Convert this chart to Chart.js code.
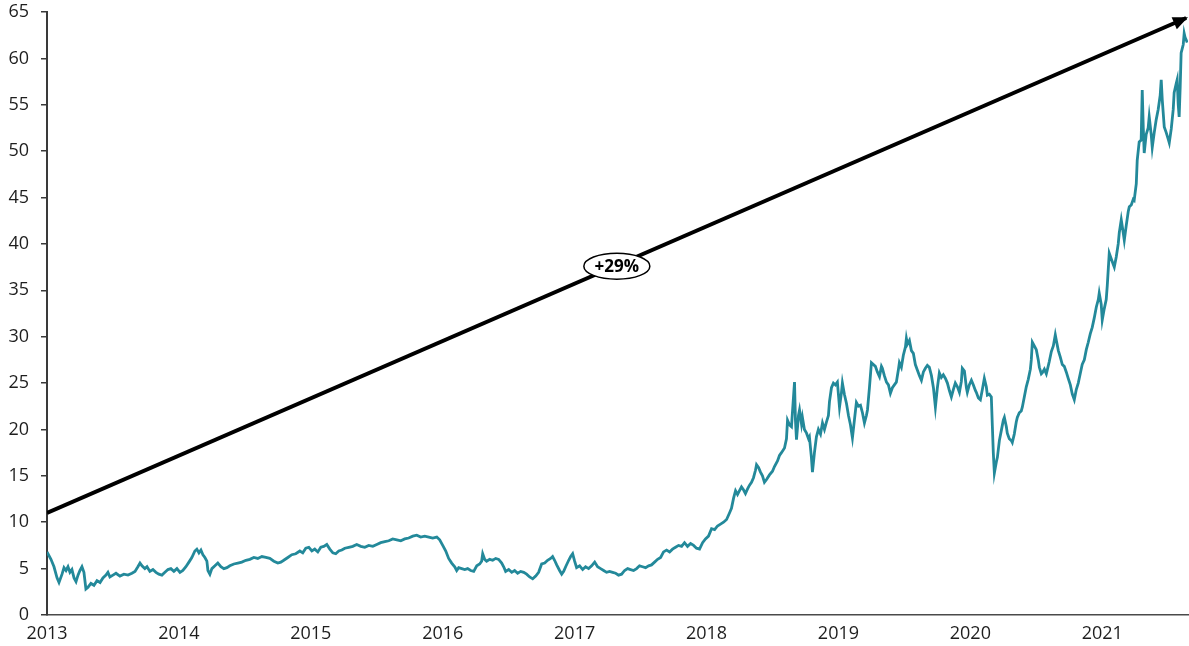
<!DOCTYPE html>
<html>
<head>
<meta charset="utf-8">
<script src="https://cdn.jsdelivr.net/npm/chart.js@4.4.1/dist/chart.umd.min.js"></script>
<style>
  html, body { margin: 0; padding: 0; background: #fff; }
  #wrap { width: 1189px; height: 646px; }
</style>
</head>
<body>
<div id="wrap"><canvas id="priceChart"></canvas></div>
<script>
// x ticks: one label per calendar year
const yearTicks = [2013, 2014, 2015, 2016, 2017, 2018, 2019, 2020, 2021];
const xMin = 2013;
const xMax = 2021.65;

// y axis range
const yMin = 0;
const yMax = 65;
const yStep = 5;

// price history, [fractional year, price]
const priceSeries = [
  [2013.000, 6.8], [2013.030, 6.0], [2013.053, 5.2], [2013.076, 4.0], [2013.091, 3.5], [2013.114, 4.4],
  [2013.129, 5.1], [2013.144, 4.8], [2013.159, 5.2], [2013.174, 4.6], [2013.189, 4.9], [2013.205, 4.0],
  [2013.220, 3.6], [2013.235, 4.3], [2013.250, 4.8], [2013.265, 5.2], [2013.280, 4.6], [2013.295, 2.8],
  [2013.311, 3.0], [2013.333, 3.4], [2013.356, 3.2], [2013.379, 3.7], [2013.402, 3.5], [2013.424, 4.0],
  [2013.447, 4.3], [2013.462, 4.6], [2013.477, 4.1], [2013.500, 4.3], [2013.523, 4.5], [2013.553, 4.2],
  [2013.583, 4.4], [2013.614, 4.3], [2013.644, 4.5], [2013.667, 4.7], [2013.689, 5.2], [2013.705, 5.6],
  [2013.720, 5.3], [2013.742, 5.0], [2013.758, 5.2], [2013.780, 4.7], [2013.803, 4.9], [2013.826, 4.6],
  [2013.848, 4.4], [2013.871, 4.3], [2013.894, 4.6], [2013.917, 4.9], [2013.939, 5.0], [2013.962, 4.7],
  [2013.985, 5.0], [2014.008, 4.6], [2014.030, 4.8], [2014.053, 5.2], [2014.076, 5.7], [2014.098, 6.2],
  [2014.121, 6.9], [2014.136, 7.1], [2014.152, 6.7], [2014.167, 7.0], [2014.182, 6.5], [2014.197, 6.2],
  [2014.212, 5.8], [2014.220, 4.8], [2014.235, 4.4], [2014.250, 5.0], [2014.273, 5.3], [2014.295, 5.6],
  [2014.318, 5.2], [2014.341, 5.0], [2014.364, 5.1], [2014.386, 5.3], [2014.417, 5.5], [2014.447, 5.6],
  [2014.477, 5.7], [2014.508, 5.9], [2014.538, 6.0], [2014.568, 6.2], [2014.598, 6.1], [2014.629, 6.3],
  [2014.659, 6.2], [2014.689, 6.1], [2014.720, 5.8], [2014.750, 5.6], [2014.773, 5.7], [2014.795, 5.9],
  [2014.826, 6.2], [2014.856, 6.5], [2014.886, 6.6], [2014.917, 6.9], [2014.939, 6.7], [2014.962, 7.2],
  [2014.985, 7.3], [2015.008, 6.9], [2015.030, 7.1], [2015.053, 6.8], [2015.076, 7.3], [2015.098, 7.4],
  [2015.121, 7.6], [2015.144, 7.1], [2015.167, 6.7], [2015.189, 6.6], [2015.212, 6.9], [2015.235, 7.0],
  [2015.258, 7.2], [2015.288, 7.3], [2015.318, 7.4], [2015.348, 7.6], [2015.379, 7.4], [2015.409, 7.3],
  [2015.439, 7.5], [2015.470, 7.4], [2015.500, 7.6], [2015.530, 7.8], [2015.561, 7.9], [2015.591, 8.0],
  [2015.621, 8.2], [2015.652, 8.1], [2015.682, 8.0], [2015.712, 8.2], [2015.742, 8.3], [2015.773, 8.5],
  [2015.803, 8.6], [2015.833, 8.4], [2015.864, 8.5], [2015.894, 8.4], [2015.924, 8.3], [2015.955, 8.4],
  [2015.977, 8.1], [2016.000, 7.5], [2016.023, 6.9], [2016.045, 6.1], [2016.068, 5.6], [2016.091, 5.2],
  [2016.106, 4.8], [2016.121, 5.1], [2016.144, 5.0], [2016.167, 4.9], [2016.189, 5.0], [2016.212, 4.8],
  [2016.235, 4.7], [2016.258, 5.3], [2016.280, 5.5], [2016.295, 5.8], [2016.303, 6.6], [2016.318, 6.0],
  [2016.333, 5.8], [2016.356, 6.0], [2016.379, 5.9], [2016.402, 6.1], [2016.424, 6.0], [2016.447, 5.6],
  [2016.462, 5.2], [2016.477, 4.7], [2016.500, 4.9], [2016.523, 4.6], [2016.545, 4.8], [2016.568, 4.5],
  [2016.591, 4.7], [2016.614, 4.6], [2016.636, 4.4], [2016.659, 4.1], [2016.682, 3.9], [2016.705, 4.2],
  [2016.727, 4.6], [2016.750, 5.5], [2016.773, 5.6], [2016.795, 5.9], [2016.818, 6.1], [2016.833, 6.3],
  [2016.848, 5.9], [2016.864, 5.4], [2016.886, 4.8], [2016.902, 4.4], [2016.917, 4.7], [2016.932, 5.2],
  [2016.955, 5.9], [2016.970, 6.3], [2016.985, 6.6], [2017.000, 5.8], [2017.015, 5.1], [2017.038, 5.3],
  [2017.061, 4.9], [2017.083, 5.2], [2017.106, 5.0], [2017.129, 5.3], [2017.152, 5.7], [2017.174, 5.2],
  [2017.197, 5.0], [2017.220, 4.8], [2017.242, 4.6], [2017.265, 4.7], [2017.288, 4.6], [2017.311, 4.5],
  [2017.333, 4.3], [2017.356, 4.4], [2017.379, 4.8], [2017.402, 5.0], [2017.424, 4.9], [2017.447, 4.8],
  [2017.470, 5.0], [2017.492, 5.3], [2017.515, 5.2], [2017.538, 5.1], [2017.561, 5.3], [2017.583, 5.4],
  [2017.606, 5.7], [2017.629, 6.0], [2017.652, 6.2], [2017.674, 6.8], [2017.697, 7.0], [2017.720, 6.8],
  [2017.742, 7.1], [2017.765, 7.3], [2017.788, 7.5], [2017.811, 7.4], [2017.833, 7.8], [2017.856, 7.4],
  [2017.879, 7.7], [2017.902, 7.5], [2017.924, 7.2], [2017.947, 7.1], [2017.970, 7.8], [2017.992, 8.2],
  [2018.015, 8.5], [2018.038, 9.3], [2018.061, 9.2], [2018.083, 9.6], [2018.106, 9.8], [2018.129, 10.0],
  [2018.152, 10.3], [2018.174, 11.0], [2018.189, 11.5], [2018.205, 12.6], [2018.220, 13.4], [2018.235, 13.0],
  [2018.250, 13.4], [2018.265, 13.8], [2018.280, 13.5], [2018.295, 13.1], [2018.311, 13.6], [2018.326, 14.0],
  [2018.341, 14.3], [2018.356, 14.8], [2018.371, 15.6], [2018.379, 16.2], [2018.394, 15.9], [2018.409, 15.4],
  [2018.424, 15.0], [2018.439, 14.3], [2018.455, 14.6], [2018.477, 15.1], [2018.500, 15.5], [2018.515, 16.0],
  [2018.538, 16.6], [2018.553, 17.2], [2018.568, 17.5], [2018.591, 18.0], [2018.606, 19.0], [2018.614, 21.0],
  [2018.629, 20.5], [2018.644, 20.3], [2018.652, 22.0], [2018.667, 25.1], [2018.674, 21.0], [2018.682, 18.9],
  [2018.697, 21.5], [2018.705, 22.1], [2018.720, 20.6], [2018.727, 21.3], [2018.742, 20.0], [2018.758, 19.6],
  [2018.773, 19.0], [2018.780, 19.2], [2018.795, 17.0], [2018.803, 15.4], [2018.818, 17.5], [2018.833, 19.2],
  [2018.848, 20.0], [2018.864, 19.5], [2018.879, 20.7], [2018.894, 20.0], [2018.909, 20.8], [2018.924, 21.5],
  [2018.932, 23.0], [2018.947, 24.5], [2018.962, 25.0], [2018.977, 24.8], [2018.992, 25.1], [2019.008, 22.4],
  [2019.023, 24.0], [2019.030, 25.0], [2019.045, 23.8], [2019.061, 22.8], [2019.076, 21.5], [2019.091, 20.5],
  [2019.106, 19.1], [2019.121, 21.0], [2019.136, 22.9], [2019.152, 22.5], [2019.167, 22.6], [2019.182, 21.8],
  [2019.197, 20.7], [2019.212, 21.5], [2019.220, 22.1], [2019.235, 24.5], [2019.250, 27.2], [2019.265, 27.0],
  [2019.280, 26.8], [2019.295, 26.2], [2019.311, 25.7], [2019.326, 26.8], [2019.333, 26.6], [2019.348, 25.8],
  [2019.364, 25.1], [2019.379, 24.8], [2019.394, 23.9], [2019.409, 24.5], [2019.424, 24.8], [2019.439, 25.1],
  [2019.455, 26.5], [2019.462, 27.2], [2019.477, 26.7], [2019.492, 28.0], [2019.508, 28.9], [2019.515, 29.8],
  [2019.523, 29.2], [2019.538, 29.6], [2019.553, 28.5], [2019.568, 28.2], [2019.583, 27.0], [2019.598, 26.4],
  [2019.614, 25.8], [2019.629, 25.3], [2019.644, 26.2], [2019.659, 26.6], [2019.674, 26.9], [2019.689, 26.7],
  [2019.705, 25.8], [2019.720, 24.5], [2019.735, 22.4], [2019.750, 24.5], [2019.765, 26.1], [2019.780, 25.6],
  [2019.795, 25.9], [2019.811, 25.5], [2019.826, 25.0], [2019.841, 24.2], [2019.856, 23.5], [2019.871, 24.3],
  [2019.886, 25.0], [2019.902, 24.6], [2019.917, 24.0], [2019.932, 25.2], [2019.939, 26.6], [2019.955, 26.3],
  [2019.970, 24.5], [2019.977, 24.0], [2019.992, 24.8], [2020.008, 25.3], [2020.023, 24.8], [2020.038, 24.2],
  [2020.045, 24.0], [2020.061, 23.4], [2020.076, 23.2], [2020.091, 24.3], [2020.106, 25.5], [2020.121, 24.6],
  [2020.129, 23.7], [2020.144, 23.8], [2020.159, 23.5], [2020.167, 20.3], [2020.174, 17.5], [2020.182, 15.3],
  [2020.197, 16.5], [2020.205, 17.0], [2020.220, 18.8], [2020.235, 19.9], [2020.250, 21.0], [2020.258, 21.3],
  [2020.273, 20.3], [2020.280, 19.6], [2020.295, 19.0], [2020.311, 18.8], [2020.318, 18.6], [2020.333, 19.5],
  [2020.348, 20.8], [2020.356, 21.3], [2020.371, 21.8], [2020.386, 22.0], [2020.394, 22.4], [2020.409, 23.5],
  [2020.424, 24.6], [2020.439, 25.4], [2020.455, 26.5], [2020.462, 27.5], [2020.470, 29.4], [2020.485, 29.0],
  [2020.500, 28.6], [2020.515, 27.5], [2020.523, 26.7], [2020.538, 26.0], [2020.545, 26.1], [2020.561, 26.5],
  [2020.576, 26.0], [2020.583, 26.4], [2020.598, 27.3], [2020.614, 28.4], [2020.629, 29.0], [2020.644, 30.2],
  [2020.652, 29.6], [2020.667, 28.5], [2020.682, 27.8], [2020.697, 27.0], [2020.712, 26.8], [2020.727, 26.2],
  [2020.742, 25.5], [2020.758, 24.8], [2020.773, 23.8], [2020.788, 23.2], [2020.803, 24.3], [2020.818, 25.0],
  [2020.833, 26.0], [2020.848, 27.0], [2020.864, 27.5], [2020.879, 28.6], [2020.894, 29.4], [2020.909, 30.3],
  [2020.924, 31.0], [2020.939, 32.0], [2020.955, 33.2], [2020.970, 34.0], [2020.977, 34.7], [2020.992, 33.5],
  [2021.000, 31.8], [2021.015, 33.0], [2021.030, 34.0], [2021.038, 35.5], [2021.053, 39.0], [2021.068, 38.4],
  [2021.083, 37.8], [2021.091, 37.5], [2021.106, 38.6], [2021.121, 40.0], [2021.129, 41.2], [2021.144, 42.6],
  [2021.159, 41.2], [2021.167, 40.4], [2021.182, 42.0], [2021.197, 43.5], [2021.205, 44.0], [2021.220, 44.2],
  [2021.235, 44.8], [2021.242, 44.7], [2021.258, 46.5], [2021.265, 49.0], [2021.280, 51.0], [2021.295, 51.2],
  [2021.303, 56.6], [2021.311, 52.5], [2021.318, 49.8], [2021.333, 51.8], [2021.348, 52.5], [2021.356, 53.7],
  [2021.371, 51.8], [2021.379, 50.4], [2021.394, 52.0], [2021.409, 53.4], [2021.424, 54.5], [2021.439, 56.0],
  [2021.447, 57.7], [2021.455, 55.5], [2021.470, 52.6], [2021.485, 52.0], [2021.500, 51.3], [2021.508, 50.9],
  [2021.523, 52.4], [2021.538, 54.5], [2021.545, 56.3], [2021.561, 57.3], [2021.568, 57.7], [2021.576, 55.0],
  [2021.583, 53.7], [2021.591, 57.0], [2021.598, 60.6], [2021.614, 61.5], [2021.621, 62.7], [2021.629, 62.2],
  [2021.636, 62.0], [2021.644, 61.7]
];

// trend arrow endpoints and its annotation
const trendStart = [2013.0, 11.0];
const trendEnd = [2021.636, 64.35];
const trendLabel = '+29%';
const trendLabelAt = [2017.32, 37.6];

const tickFont = { family: '"Open Sans", "DejaVu Sans", sans-serif', size: 18 };
const tickColor = '#1e1e1e';

// arrowhead on the trend line plus the oval label sitting on it
const trendMarks = {
  id: 'trendMarks',
  afterDatasetsDraw(chart) {
    const { ctx, scales: { x, y } } = chart;
    const x0 = x.getPixelForValue(trendStart[0]);
    const y0 = y.getPixelForValue(trendStart[1]);
    const x1 = x.getPixelForValue(trendEnd[0]);
    const y1 = y.getPixelForValue(trendEnd[1]);
    const ang = Math.atan2(y1 - y0, x1 - x0);
    const cos = Math.cos(ang), sin = Math.sin(ang);
    const tipX = x1 + 2 * cos, tipY = y1 + 2 * sin;
    const len = 15, half = 6.5;

    ctx.save();
    ctx.fillStyle = '#000';
    ctx.beginPath();
    ctx.moveTo(tipX, tipY);
    ctx.lineTo(tipX - len * cos + half * sin, tipY - len * sin - half * cos);
    ctx.lineTo(tipX - len * cos - half * sin, tipY - len * sin + half * cos);
    ctx.closePath();
    ctx.fill();

    const cx = x.getPixelForValue(trendLabelAt[0]);
    const cy = y.getPixelForValue(trendLabelAt[1]);
    ctx.beginPath();
    ctx.ellipse(cx, cy, 33, 13, 0, 0, Math.PI * 2);
    ctx.fillStyle = '#fff';
    ctx.fill();
    ctx.lineWidth = 1.5;
    ctx.strokeStyle = '#000';
    ctx.stroke();

    ctx.fillStyle = '#000';
    ctx.font = 'bold 17px "Open Sans", "DejaVu Sans", sans-serif';
    ctx.textAlign = 'center';
    ctx.textBaseline = 'middle';
    ctx.fillText(trendLabel, cx, cy + 1);
    ctx.restore();
  }
};

const ctx = document.getElementById('priceChart').getContext('2d');
new Chart(ctx, {
  type: 'line',
  data: {
    datasets: [
      {
        label: 'trend',
        data: [trendStart, trendEnd].map(p => ({ x: p[0], y: p[1] })),
        borderColor: '#000',
        borderWidth: 4,
        pointRadius: 0,
        fill: false,
        order: 0
      },
      {
        label: 'price',
        data: priceSeries.map(p => ({ x: p[0], y: p[1] })),
        borderColor: '#23899a',
        borderWidth: 2.8,
        pointRadius: 0,
        tension: 0,
        fill: false,
        order: 1
      }
    ]
  },
  options: {
    responsive: true,
    maintainAspectRatio: false,
    animation: false,
    layout: { padding: { top: 12, right: 1, left: 0, bottom: 0 } },
    plugins: {
      legend: { display: false },
      tooltip: { enabled: false }
    },
    scales: {
      x: {
        type: 'linear',
        min: xMin,
        max: xMax,
        afterBuildTicks: scale => {
          scale.ticks = yearTicks.map(v => ({ value: v }));
        },
        afterFit: scale => {
          scale.height = 31;
          scale.paddingLeft = 0;
          scale.paddingRight = 0;
        },
        grid: { display: false, drawTicks: false },
        border: { display: true, color: '#4a4a4a', width: 1.5 },
        ticks: {
          padding: 8,
          maxRotation: 0,
          autoSkip: false,
          color: tickColor,
          font: tickFont,
          callback: v => String(v)
        }
      },
      y: {
        min: yMin,
        max: yMax,
        afterFit: scale => {
          scale.width = 47;
          // the top label may hang above the plot; keep the plot flush with layout padding
          scale.paddingTop = 0;
          scale.paddingBottom = 0;
        },
        grid: { drawOnChartArea: false, drawTicks: true, tickLength: 6, color: '#3a3a3a', lineWidth: 1.5 },
        border: { display: true, color: '#3a3a3a', width: 2 },
        ticks: {
          stepSize: yStep,
          padding: 12,
          color: tickColor,
          font: tickFont
        }
      }
    }
  },
  plugins: [trendMarks]
});
</script>
</body>
</html>
